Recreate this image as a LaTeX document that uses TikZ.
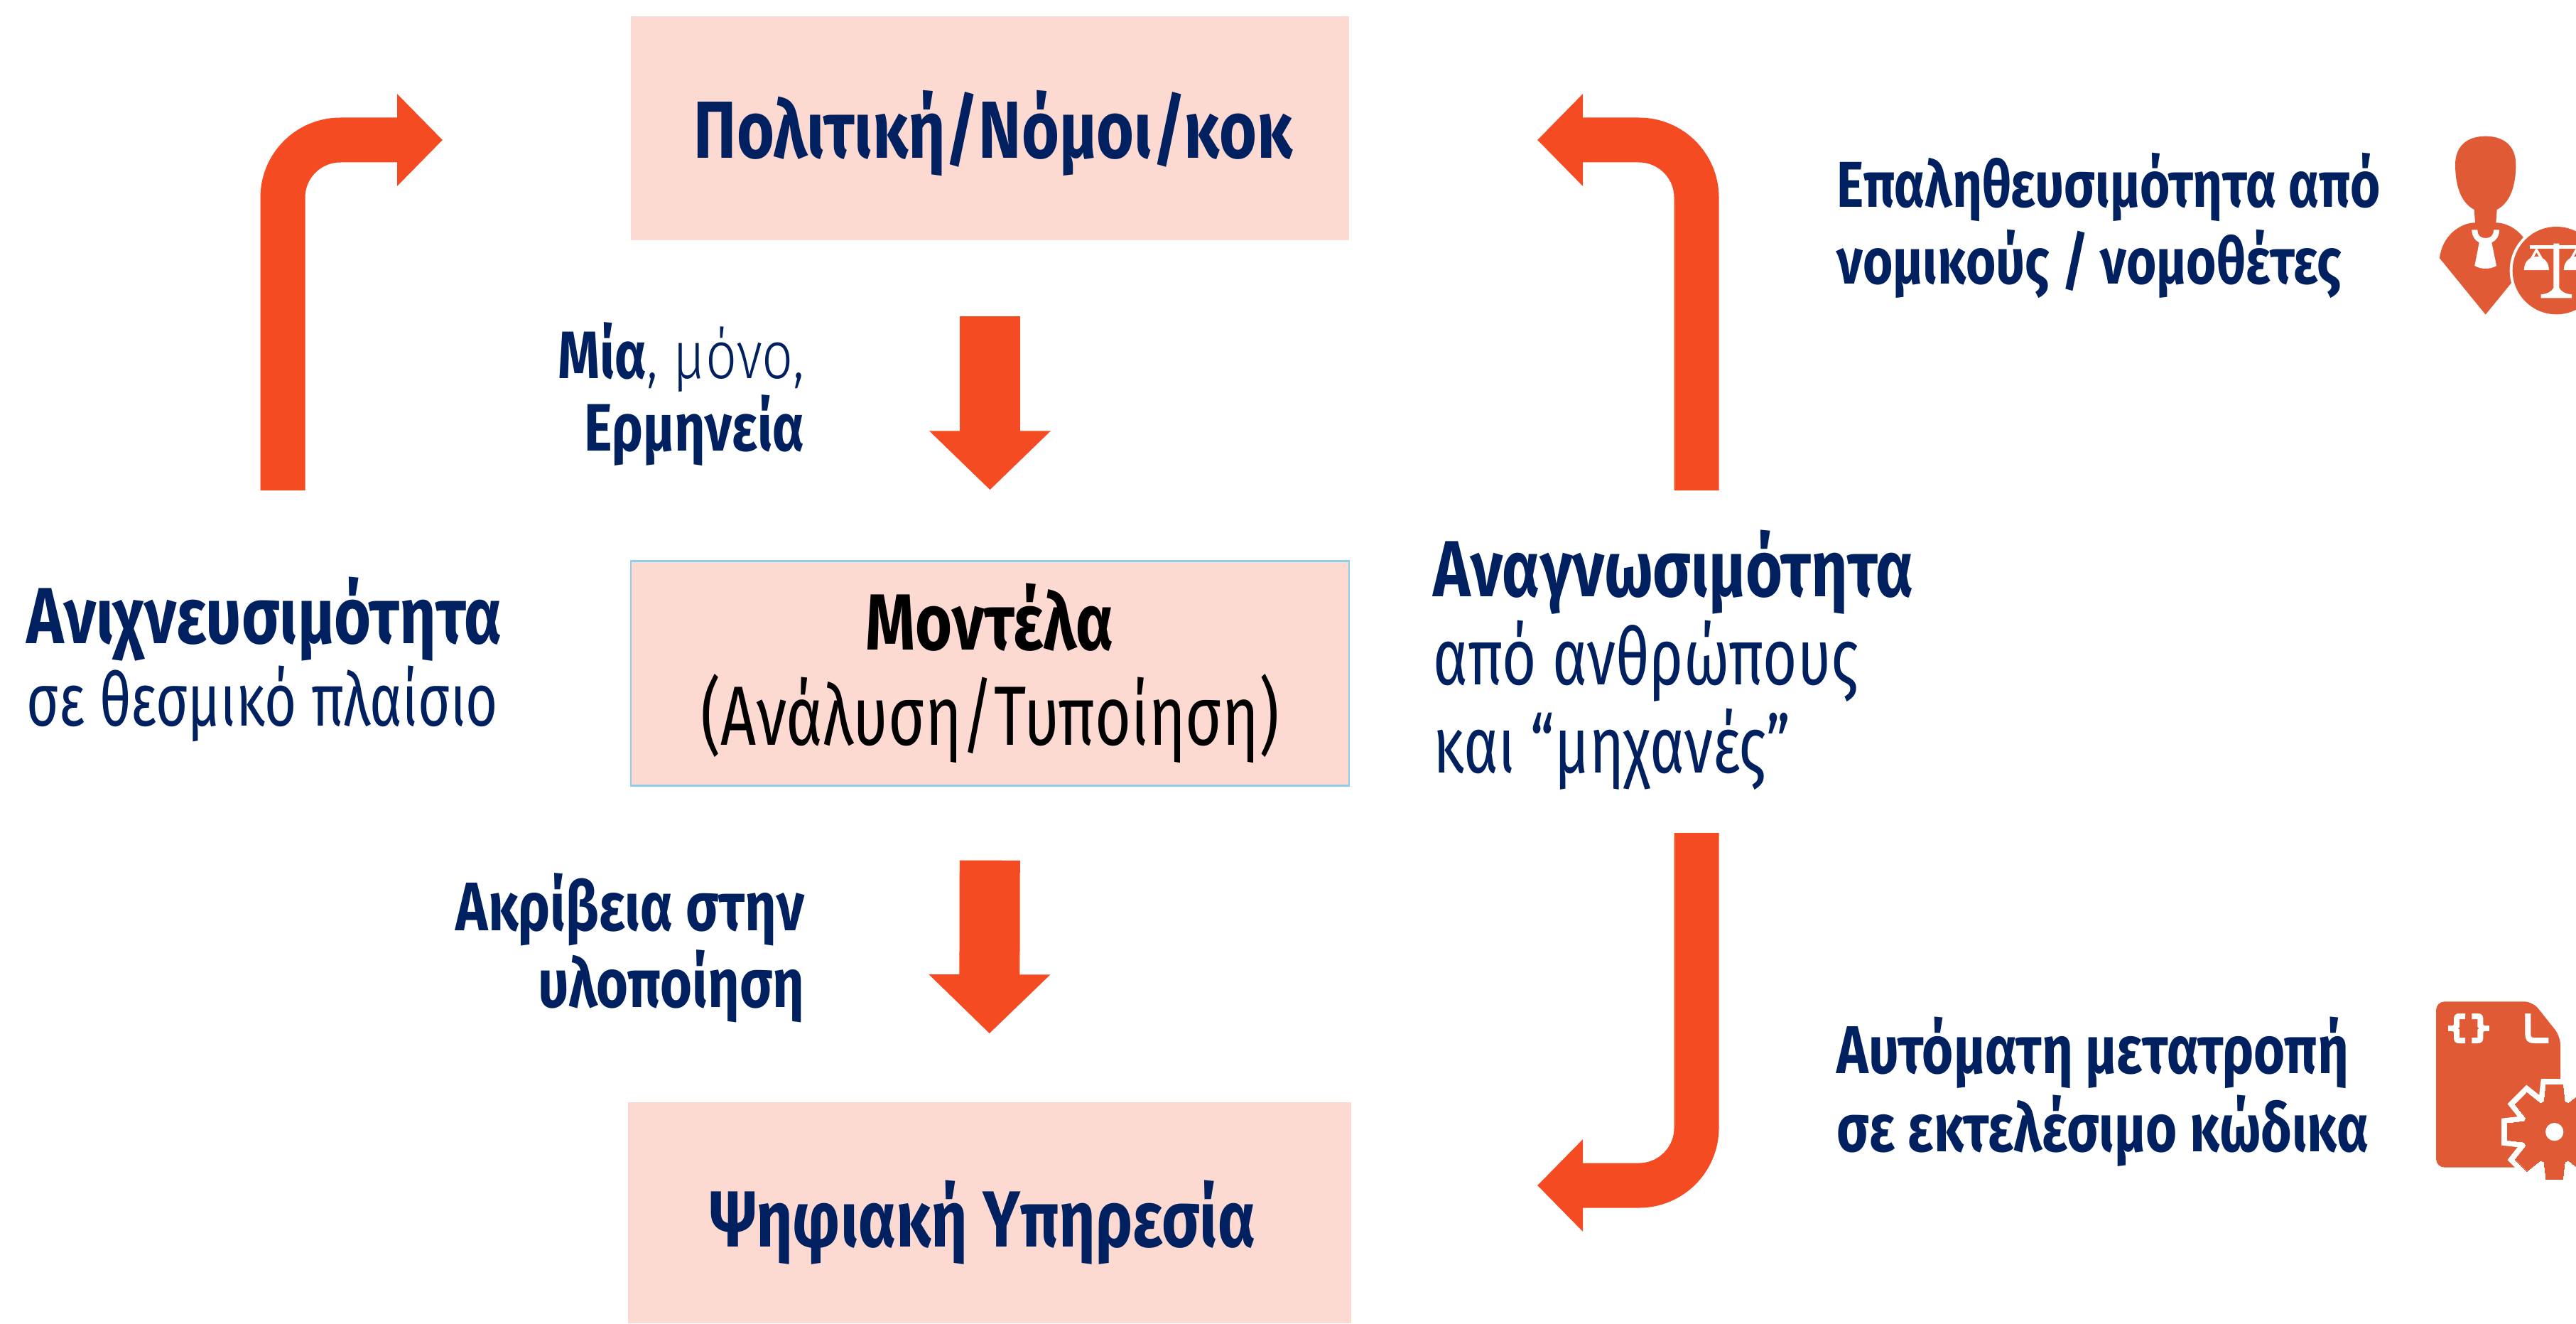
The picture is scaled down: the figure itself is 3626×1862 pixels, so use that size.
\documentclass[tikz,border=0pt]{standalone}
\usepackage{fontspec}
\usetikzlibrary{arrows.meta}
\setmainfont[FakeStretch=0.795]{Fira Sans}
\newfontfamily\lightfont[FakeStretch=0.82]{Fira Sans Light}
\newfontfamily\plainfont[FakeStretch=0.74]{Fira Sans}
\definecolor{navyink}{HTML}{002060}
\definecolor{arrowred}{HTML}{F44B22}
\definecolor{iconred}{HTML}{E05A35}
\definecolor{boxpink}{HTML}{FCD9D1}
\definecolor{boxline}{HTML}{8FCDE8}
\begin{document}
\begin{tikzpicture}[x=0.25pt,y=-0.25pt]
  \tikzset{
    mybox/.style={
      fill=boxpink,
      minimum width=252.75pt,
      inner sep=0pt,
      align=center,
      text=navyink,
      font=\bfseries\fontsize{28}{33.5}\selectfont
    },
    straightarrow/.style={
      draw=arrowred,
      line width=21.25pt,
      -{Triangle[length=20.75pt,width=41.5pt]}
    },
    bentarrow/.style={
      draw=arrowred,
      line width=15.75pt,
      rounded corners=20.25pt,
      -{Triangle[length=16pt,width=31.5pt]}
    },
    smalllabel/.style={
      text=navyink,
      inner sep=0pt,
      font=\bfseries\fontsize{#1}{27}\selectfont
    },
    biglabel/.style={
      text=navyink,
      inner sep=0pt,
      font=\fontsize{28}{31}\selectfont
    }
  }

  \useasboundingbox (0,0) rectangle (3626,1862);

  % boxes
  \node[mybox,minimum height=78.75pt,text height=26pt,text depth=5pt] (politics) at (1393.5,180.5)
    {\hspace*{2.3pt}\fontsize{28.5}{33.5}\selectfont Πολιτική/Νόμοι/κοκ};
  \node[mybox,draw=boxline,line width=0.6pt,minimum height=79pt,text=black] (models) at (1393.5,947.5)
    {\rule{0pt}{23.5pt}Μοντέλα\\{\mdseries\plainfont\fontsize{29.6}{33.5}\selectfont (Ανάλυση/Τυποίηση)}};
  \node[mybox,minimum width=254.5pt,minimum height=77.75pt,text height=28pt,text depth=4pt] (service) at (1392.5,1706.5)
    {Ψηφιακή Υπηρεσία\hspace*{4.6pt}};

  % labels
  \node[smalllabel=23.6,anchor=east,align=right] (onelabel) at (1133,555) {Μία{\mdseries\lightfont, μόνο,}\\[-1.5pt]Ερμηνεία};
  \node[smalllabel=24.2,anchor=east,align=right] (accuracy) at (1133,1334) {Ακρίβεια στην\\υλοποίηση};
  \node[biglabel,anchor=west,align=left] (traceable) at (37,928) {\textbf{Ανιχνευσιμότητα}\\[-2pt]{\plainfont\fontsize{26.2}{29}\selectfont σε θεσμικό πλαίσιο}};
  \node[biglabel,anchor=west,align=left] (readable) at (2017,929)
    {\textbf{Αναγνωσιμότητα}\\{\plainfont από ανθρώπους}\\{\plainfont και “μηχανές”}};
  \node[smalllabel=22.8,anchor=west,align=left] (verify) at (2585,318) {Επαληθευσιμότητα από\\νομικούς / νομοθέτες};
  \node[smalllabel=23.8,anchor=west,align=left] (convert) at (2585,1536) {Αυτόματη μετατροπή\\[0.5pt]σε εκτελέσιμο κώδικα};

  % arrows
  \coordinate (leftstart) at (398,690);
  \coordinate (lefttip) at (623,197);
  \coordinate (rightstart) at (2388,690);
  \coordinate (righttip) at (2164,197);
  \coordinate (lowstart) at (2388,1172);
  \coordinate (lowtip) at (2164,1668);

  \draw[straightarrow,shorten <=26.5pt,shorten >=24.75pt] (politics.south) -- (models.north);
  \draw[straightarrow,shorten <=26pt,shorten >=24pt] (models.south) -- (service.north);
  \draw[bentarrow] (leftstart) |- (lefttip);
  \draw[bentarrow] (rightstart) |- (righttip);
  \draw[bentarrow] (lowstart) |- (lowtip);

  % lawyer icon
  \begin{scope}[shift={(3350,150)},x=0.08333pt,y=-0.08333pt]
    \clip (-10,-10) rectangle (828,960);
    \fill[iconred] (252,640) .. controls (262,545) and (340,490) .. (402,490)
      -- (398,435) .. controls (340,405) and (318,330) .. (318,245)
      .. controls (318,165) and (370,125) .. (446,125)
      .. controls (522,125) and (574,165) .. (574,245)
      .. controls (574,330) and (552,405) .. (494,435)
      -- (490,490) .. controls (552,490) and (630,545) .. (640,640)
      -- (446,878) -- cycle;
    \fill[white] (388,520) -- (412,520) .. controls (412,545) and (425,555) .. (446,555)
      .. controls (467,555) and (480,545) .. (480,520) -- (504,520)
      .. controls (504,545) and (492,565) .. (472,574) -- (492,672)
      .. controls (465,688) and (428,688) .. (400,672) -- (419,574)
      .. controls (400,565) and (388,545) .. (388,520) -- cycle;
    \fill[white] (745,692) circle [radius=197];
    \fill[iconred] (745,692) circle [radius=185];
    \fill[white] (632,585) rectangle (858,600);
    \fill[white] (733,578) -- (757,578) -- (757,765) .. controls (765,780) and (780,790) .. (810,793)
      -- (810,808) -- (680,808) -- (680,793) .. controls (710,790) and (725,780) .. (733,765) -- cycle;
    \foreach \pancenter in {661,829} {
      \draw[white,line width=0.85pt,line join=miter] (\pancenter,605) -- (\pancenter-45,685) -- (\pancenter+45,685) -- cycle;
      \fill[white] (\pancenter-52,685) arc [start angle=180,end angle=360,radius=52];
    }
  \end{scope}

  % code icon
  \begin{scope}[shift={(3350,1380)},x=0.08333pt,y=-0.08333pt]
    \fill[iconred,rounded corners=3pt] (237,88) -- (645,88) -- (762,235) -- (762,788) -- (237,788) -- cycle;
    \draw[white,line width=2pt] (360,150) -- (335,150) .. controls (325,150) and (324,155) .. (324,165)
      -- (324,190) -- (312,201) -- (324,212) -- (324,238) .. controls (324,248) and (325,252) .. (335,252) -- (360,252);
    \draw[white,line width=2pt] (388,150) -- (413,150) .. controls (423,150) and (424,155) .. (424,165)
      -- (424,190) -- (436,201) -- (424,212) -- (424,238) .. controls (424,248) and (423,252) .. (413,252) -- (388,252);
    \fill[white] (287,190) rectangle (312,213);
    \fill[white] (437,190) rectangle (462,213);
    \draw[white,line width=2pt] (625,138) -- (625,225) .. controls (625,245) and (632,252) .. (652,252) -- (712,252);
    \begin{scope}[shift={(737,638)}]
      \foreach \gearcolor/\gearline in {white/4pt,iconred/0pt} {
        \filldraw[fill=\gearcolor,draw=\gearcolor,line width=\gearline,line join=miter] (-19:134)
          \foreach \a in {0,45,...,315} { -- (\a-19:134) -- (\a-10:203) -- (\a+10:203) -- (\a+19:134) } -- cycle;
      }
      \fill[white] (0,0) circle [radius=38];
    \end{scope}
  \end{scope}
\end{tikzpicture}
\end{document}
